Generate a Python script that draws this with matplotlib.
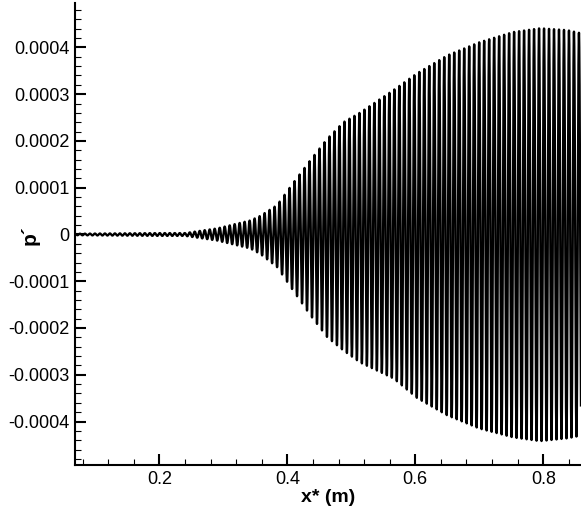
import matplotlib.pyplot as plt
import numpy as np

plt.rcParams['font.family'] = ['Liberation Sans', 'DejaVu Sans']

# Envolvente de la oscilacion (x en m)
x_env = [0.068, 0.10, 0.20, 0.24, 0.29, 0.342, 0.358, 0.384, 0.409, 0.436, 0.4625,
         0.4875, 0.514, 0.566, 0.603, 0.65, 0.70, 0.753, 0.795, 0.8375, 0.86]
env_sup = [0.0000015, 0.000002, 0.000003, 0.000003, 0.000013, 0.00003, 0.00004, 0.000063,
           0.00011, 0.000159, 0.000205, 0.00024, 0.000261, 0.000309, 0.000345, 0.000383,
           0.000411, 0.000433, 0.000441, 0.000437, 0.00043]
env_inf = [0.0000015, 0.000002, 0.000003, 0.000003, 0.000013, 0.00003, 0.000042, 0.00007,
           0.00012, 0.000173, 0.00022, 0.000248, 0.000274, 0.000308, 0.00035, 0.000387,
           0.000415, 0.000434, 0.000442, 0.000436, 0.00043]
longitud_onda = 0.0078

x_ticks = [0.2, 0.4, 0.6, 0.8]
y_ticks = [-0.0004, -0.0003, -0.0002, -0.0001, 0, 0.0001, 0.0002, 0.0003, 0.0004]
y_labels = ['-0.0004', '-0.0003', '-0.0002', '-0.0001', '0', '0.0001', '0.0002', '0.0003', '0.0004']

# Senal p' (envolvente por oscilacion)
x = np.linspace(x_env[0], x_env[-1], 20000)
fase = np.cos(2 * np.pi * (x - x_env[0]) / longitud_onda)
sup = np.interp(x, x_env, env_sup)
inf = np.interp(x, x_env, env_inf)
p = np.where(fase > 0, sup * fase, inf * fase)

fig = plt.figure(figsize=(5.81, 5.12), dpi=100)
ax = fig.add_axes([0.129, 0.0918, 0.871, 0.9023])
ax.plot(x, p, color='black', linewidth=1.7)

ax.set_xlim(0.068, 0.859)
ax.set_ylim(-0.000493, 0.000495)
ax.set_xticks(x_ticks)
ax.set_xticks(np.arange(0.08, 0.86, 0.04), minor=True)
ax.set_yticks(y_ticks)
ax.set_yticklabels(y_labels)
ax.set_yticks(np.arange(-0.00048, 0.00049, 0.00002), minor=True)

ax.spines['top'].set_visible(False)
ax.spines['right'].set_visible(False)
ax.spines['left'].set_linewidth(1.5)
ax.spines['bottom'].set_linewidth(1.5)
ax.tick_params(which='major', direction='in', length=8, width=1.5, labelsize=13, pad=4)
ax.tick_params(which='minor', direction='in', length=4, width=0.8)

ax.set_xlabel('x* (m)', fontsize=14, fontweight='bold')
ax.set_ylabel('p\u00b4', fontsize=15, fontweight='bold')
ax.xaxis.set_label_coords(0.5, -0.052)
ax.yaxis.set_label_coords(-0.089, 0.498)
ax.yaxis.label.set_verticalalignment('center')

fig.savefig('out.png', dpi=100)
